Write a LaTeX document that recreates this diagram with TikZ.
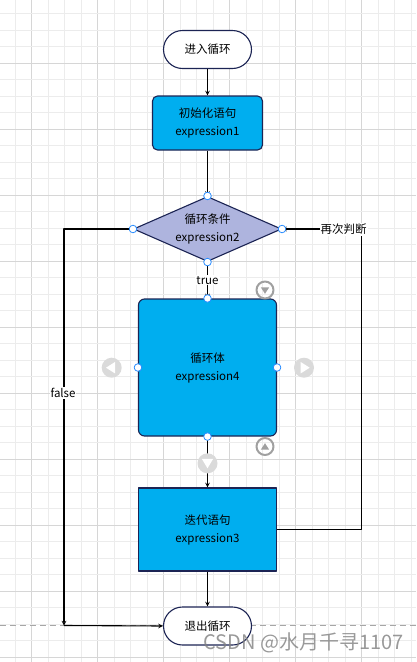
\documentclass[tikz,border=0pt]{standalone}
\usepackage{fontspec}
\newfontfamily\cjk{Noto Sans CJK SC}
\usetikzlibrary{shapes.geometric}
\definecolor{boxblue}{RGB}{0,174,239}
\definecolor{navy}{RGB}{28,36,84}
\definecolor{lilac}{RGB}{174,180,222}
\definecolor{gridminor}{RGB}{236,236,236}
\definecolor{gridmajor}{RGB}{214,214,214}
\definecolor{handleblue}{RGB}{40,140,255}
\definecolor{btngray}{RGB}{160,160,160}
\definecolor{btnlight}{RGB}{218,218,218}
\tikzset{
  every node/.style={font=\cjk\fontsize{11.5}{18}\selectfont, align=center},
  terminal/.style={draw=navy, fill=white, rounded corners=19, minimum width=88, minimum height=38, inner sep=0},
  process/.style={draw=navy, fill=boxblue, minimum width=138, inner sep=0},
  decision/.style={diamond, aspect=2.28, draw=navy, fill=lilac, minimum width=148, minimum height=65, inner sep=0},
  handle/.style={draw=handleblue, fill=white, line width=0.8},
  tag/.style={fill=white, inner sep=1}
}
\begin{document}
\begin{tikzpicture}[x=1pt, y=-1pt, >=stealth, line width=1.1, line join=round]
    \useasboundingbox (0,0) rectangle (416,662);
    % grid
    \foreach \k in {0,...,25} {
        \pgfmathtruncatemacro\m{mod(\k,4)}
        \ifnum\m=2 \draw[gridmajor, line width=1] (-1.3+16.5*\k,0) -- (-1.3+16.5*\k,662);
        \else \draw[gridminor, line width=1] (-1.3+16.5*\k,0) -- (-1.3+16.5*\k,662); \fi
    }
    \foreach \k in {0,...,40} {
        \pgfmathtruncatemacro\m{mod(\k,4)}
        \ifnum\m=0 \draw[gridmajor, line width=1] (0,-2.7+16.5*\k) -- (416,-2.7+16.5*\k);
        \else \draw[gridminor, line width=1] (0,-2.7+16.5*\k) -- (416,-2.7+16.5*\k); \fi
    }
    \draw[gray!70, dashed, dash pattern=on 6 off 4] (0,625.5) -- (416,625.5);

    % nodes
    \node[terminal] (start) at (207.5,49.5) {进入循环};
    \node[process, minimum width=110, minimum height=54, rounded corners=5] (init) at (207.5,123) {初始化语句\\expression1};
    \node[decision] (cond) at (207.5,229) {循环条件\\expression2};
    \node[process, minimum height=137, rounded corners=6] (body) at (207.5,367.5) {循环体\\expression4};
    \node[process, minimum height=83] (iter) at (207.5,529.5) {迭代语句\\expression3};
    \node[terminal] (stop) at (207.5,626) {退出循环};
    \coordinate (back) at (361.7,229);
    \coordinate (fcorner) at (64,625.5);

    % connectors
    \draw[->] (start) -- (init);
    \draw[->] (init) -- (cond);
    \draw[->] (cond) -- node[tag] (yes) {true} (body);
    \draw[->] (body) -- (iter);
    \draw[->] (iter) -- (stop);
    \draw[->] (iter.east) -| (back) -- (cond.east);
    \node[tag] (again) at (343.5,229.5) {再次判断};
    \draw[->] (cond.west) -| (fcorner);
    \draw[->] (fcorner) -- (stop.west);
    \node[tag] (no) at (63,393) {false};

    % editor buttons
    \draw[btngray, line width=2] (265,290) circle (8.5) (265,446.5) circle (8.5);
    \fill[btngray] (260.8,287.3) -- (269.2,287.3) -- (265,293.8) -- cycle;
    \fill[btngray] (260.8,449.7) -- (269.2,449.7) -- (265,443.2) -- cycle;
    \fill[btnlight] (111.7,367.7) circle (10) (304,367.7) circle (10) (207.5,463.3) circle (10);
    \fill[white] (106,367.7) -- (115,362) -- (115,373.4) -- cycle;
    \fill[white] (309.7,367.7) -- (300.7,362) -- (300.7,373.4) -- cycle;
    \fill[white] (201.8,458.8) -- (213.2,458.8) -- (207.5,468.3) -- cycle;
    \foreach \p in {cond.north,cond.south,cond.east,cond.west,body.north,body.south,body.east,body.west}
        \draw[handle] (\p) circle (3.8);

    \node[font=\cjk\fontsize{20}{20}\selectfont, text=gray, opacity=0.8, anchor=west, inner sep=0] (mark) at (203,643) {CSDN @水月千寻1107};
\end{tikzpicture}
\end{document}
